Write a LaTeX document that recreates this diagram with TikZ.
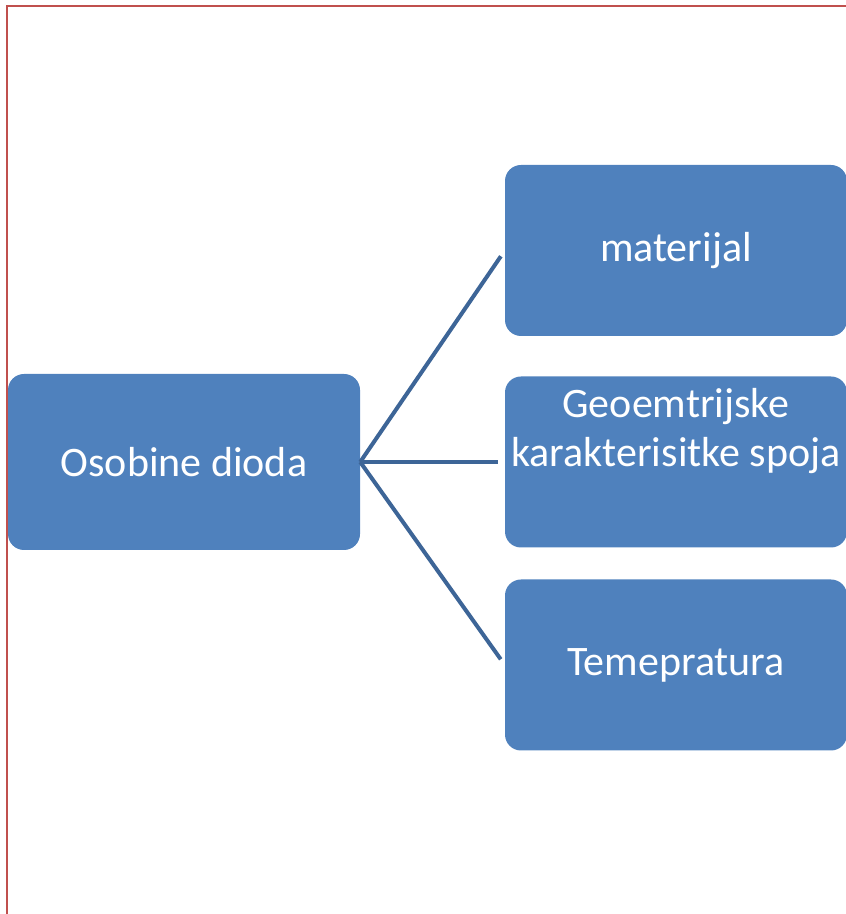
\documentclass[tikz,border=0pt]{standalone}
\usepackage{fontspec}
\setmainfont{Carlito}
\definecolor{boxblue}{HTML}{4F81BD}
\definecolor{linkblue}{HTML}{3D6597}
\definecolor{frame}{HTML}{C0504D}
\begin{document}
\begin{tikzpicture}[x=1pt,y=1pt,
  item/.style={fill=boxblue, draw=none, rounded corners=16pt, text=white,
    font=\fontsize{42}{49}\selectfont, align=center, inner sep=0pt},
  caption/.style={text=white, font=\fontsize{42}{49}\selectfont, align=center, inner sep=0pt},
  link/.style={draw=linkblue, line width=4pt, shorten >=7pt}]
\clip (0,0) rectangle (846,914);
% page frame, running off the right and bottom edges
\draw[frame, line width=1.8pt] (7,-10) -- (7,908) -- (870,908);
% root
\node[item, minimum width=352pt, minimum height=176pt] (root) at (184,452) {Osobine dioda};
% children
\node[item, minimum width=342pt, minimum height=171pt] (mat) at (676,663.5) {materijal};
\node[item, minimum width=342pt, minimum height=171pt] (geo) at (676,452) {};
\node[caption] (geotext) at ([yshift=31pt]geo.center) {Geoemtrijske\\karakterisitke spoja};
\node[item, minimum width=342pt, minimum height=171pt] (tem) at (676,249) {Temepratura};
% connectors
\draw[link] (root.east) -- (mat.west);
\draw[link] (root.east) -- (geo.west);
\draw[link] (root.east) -- (tem.west);
\end{tikzpicture}
\end{document}
